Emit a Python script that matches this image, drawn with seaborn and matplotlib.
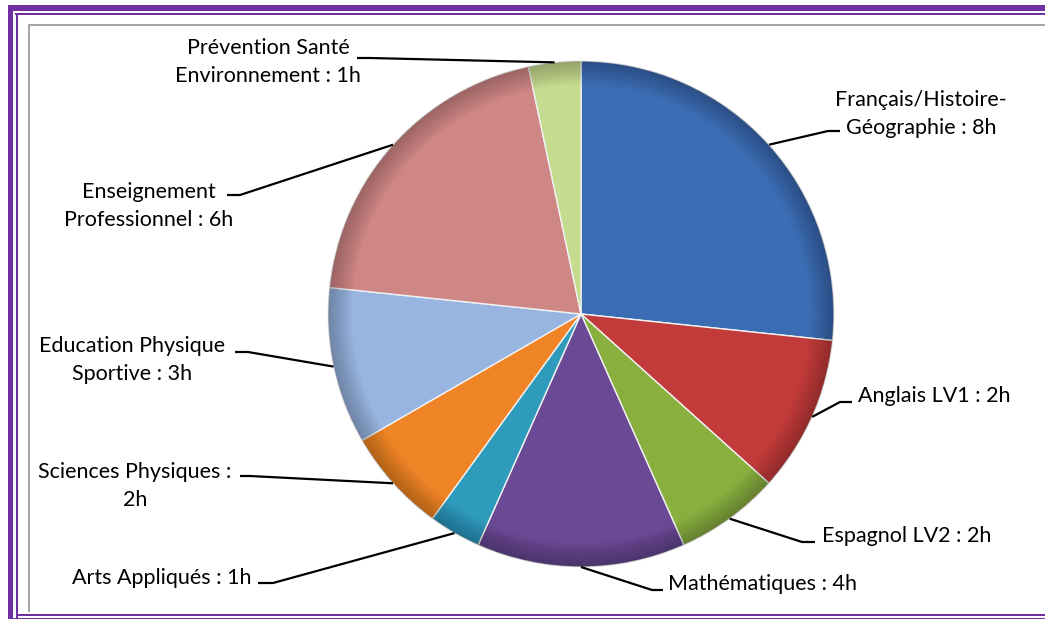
import matplotlib
matplotlib.use("Agg")
import matplotlib.pyplot as plt
from matplotlib.patches import Rectangle, Wedge
import numpy as np
import seaborn as sns

# ---- data ----
subjects = [
    "Français/Histoire-\nGéographie : 8h",
    "Anglais LV1 : 2h",
    "Espagnol LV2 : 2h",
    "Mathématiques : 4h",
    "Arts Appliqués : 1h",
    "Sciences Physiques :\n2h",
    "Education Physique\nSportive : 3h",
    "Enseignement\nProfessionnel : 6h",
    "Prévention Santé\nEnvironnement : 1h",
]
hours = [8, 3, 2, 4, 1, 2, 3, 6, 1]
colors = ["#3B6DB4", "#C23B3A", "#89B03F", "#6A4A94", "#2E9BBD",
          "#EF8426", "#98B4E0", "#CF8785", "#C5DC90"]

# ---- layout (pixels from top-left) ----
W, H = 1045, 619
CX, CY, R = 581, 314, 253
# text x, first-line y, ha, elbow x, elbow y, end x
label_layout = [
    (921, 97.5, "center", 828, 131, 840),
    (858, 394.5, "left", 840, 402, 852),
    (822, 534.5, "left", 802, 542, 815),
    (668, 582.5, "left", 652, 590, 663),
    (252, 576.5, "right", 273, 583, 258),
    (135, 469.5, "center", 250, 476, 240),
    (132, 344.5, "center", 248, 352, 235),
    (149, 190.5, "center", 240, 195, 227),
    (268, 46.5, "center", 370, 58, 357),
]
LINE_H = 28

sns.set_theme(style="white")
plt.rcParams["font.family"] = ["Lato", "DejaVu Sans"]

fig = plt.figure(figsize=(W / 100, H / 100), dpi=100)
fig.patch.set_facecolor("white")
ax = fig.add_axes([0, 0, 1, 1])

wedges, _ = ax.pie(hours, colors=colors, startangle=90, counterclock=False,
                   center=(CX, H - CY), radius=R,
                   wedgeprops=dict(edgecolor="#f2f2f2", linewidth=1.0))

# subtle darker rim for a bevelled look
for i in range(16):
    ax.add_patch(Wedge((CX, H - CY), R, 0, 360, width=1.5 + i * 1.5,
                       facecolor="black", alpha=0.014, edgecolor="none"))

ax.set_xlim(0, W)
ax.set_ylim(0, H)
ax.set_aspect("equal")
ax.axis("off")

# labels and leader lines
for w, lab, (tx, ty, ha, ex, ey, endx) in zip(wedges, subjects, label_layout):
    mid = np.deg2rad((w.theta1 + w.theta2) / 2)
    sx = CX + R * np.cos(mid)
    sy = (H - CY) + R * np.sin(mid)
    ax.plot([sx, ex, endx], [sy, H - ey, H - ey], color="black", lw=1.6,
            solid_capstyle="butt", zorder=5)
    for i, line in enumerate(lab.split("\n")):
        ax.text(tx, H - (ty + i * LINE_H), line, ha=ha, va="center_baseline",
                fontsize=15.5, color="black")

# frame decorations
purple = "#7030A0"
def rect(x0, y0, x1, y1, color):
    ax.add_patch(Rectangle((x0, H - y1), x1 - x0, y1 - y0, facecolor=color,
                           edgecolor="none", clip_on=False, zorder=10))
rect(8, 5, W, 11, purple)       # top thick
rect(15, 12.5, W, 15, purple)   # top thin
rect(8, 5, 13, H, purple)       # left thick
rect(15.5, 12.5, 18, H, purple) # left thin
rect(15.5, 613.5, W, 616, purple)  # bottom thin
rect(8, 617.5, W, H, purple)    # bottom thick
rect(28, 24, W, 25.5, "#a6a6a6")   # grey frame top
rect(28, 24, 29.5, 612, "#a6a6a6") # grey frame left

fig.savefig("out.png", dpi=100, facecolor="white")
